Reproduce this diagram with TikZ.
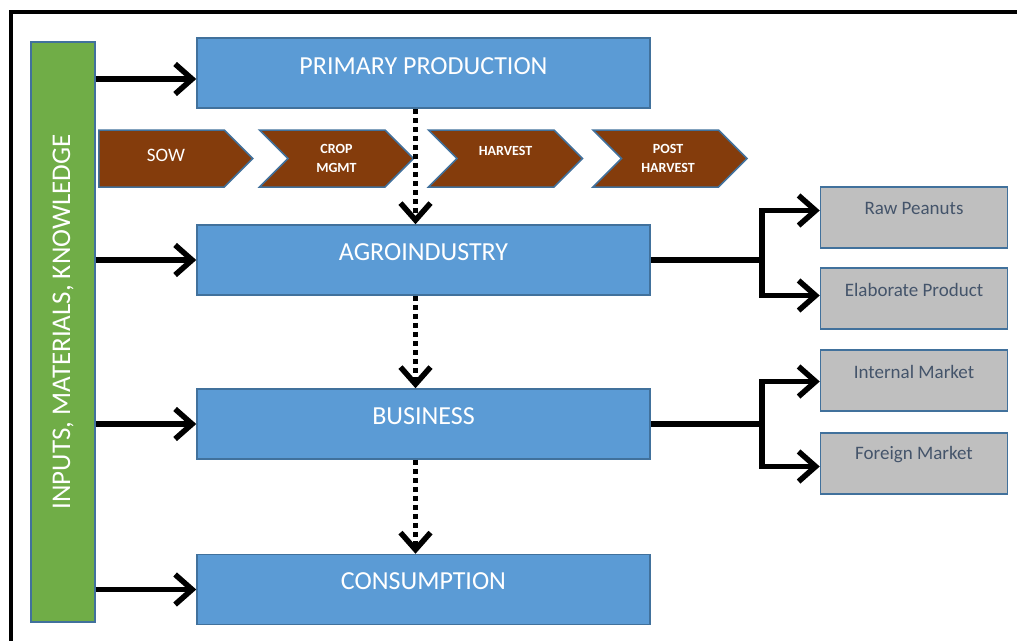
\documentclass[tikz,border=0pt]{standalone}
\usepackage{fontspec}
\setmainfont{Carlito}
\usetikzlibrary{arrows.meta,shapes.symbols,calc}
\definecolor{bfill}{HTML}{5B9BD5}
\definecolor{bline}{HTML}{41719C}
\definecolor{gfill}{HTML}{70AD47}
\definecolor{brown}{HTML}{843C0C}
\definecolor{gryfill}{HTML}{BFBFBF}
\definecolor{grytxt}{HTML}{44546A}
\tikzset{
  bluebox/.style={draw=bline, line width=1.5pt, fill=bfill, rectangle, minimum width=453pt, minimum height=70pt, inner sep=0pt},
  bluetxt/.style={text=white, font=\fontsize{26}{30}\selectfont, anchor=center},
  greybox/.style={draw=bline, line width=1.5pt, fill=gryfill, rectangle, minimum width=187pt, minimum height=61pt, inner sep=0pt},
  greytxt/.style={text=grytxt, font=\fontsize{19}{22}\selectfont, anchor=center},
  chev/.style={draw=bline, line width=1.5pt, fill=brown, signal, signal to=east, signal from=west, signal pointer angle=90, minimum height=57pt, minimum width=154pt, inner sep=0pt},
  chevtxt/.style={text=white, font=\bfseries\fontsize{14}{19}\selectfont, align=center},
  arr/.style={line width=5.5pt, -{Straight Barb[length=17pt,width=30pt,line width=5.5pt]}, black},
  dotarr/.style={line width=5.5pt, dash pattern=on 5pt off 4pt, -{Straight Barb[length=17pt,width=30pt,line width=5.5pt]}, black},
  plain/.style={line width=5.5pt, black}
}
\begin{document}
\begin{tikzpicture}[x=1pt,y=-1pt]
\useasboundingbox (0,0) rectangle (1017,640);
\fill[white] (0,0) rectangle (1017,640);
% frame
\draw[line width=4.5pt] (11,660) -- (11,12) -- (1040,12);
% green bar
\node[draw=bline, line width=1.5pt, fill=gfill, minimum width=64pt, minimum height=580pt, inner sep=0pt] (green) at (63,332) {};
\node[rotate=90, text=white, font=\fontsize{27}{30}\selectfont] (greentxt) at (63,322) {INPUTS, MATERIALS, KNOWLEDGE};
% blue boxes
\node[bluebox, label={[bluetxt, yshift=7pt]center:PRIMARY PRODUCTION}] (prim) at (423.5,73) {};
\node[bluebox, label={[bluetxt, yshift=8pt]center:AGROINDUSTRY}] (agro) at (423.5,260) {};
\node[bluebox, label={[bluetxt, yshift=8pt]center:BUSINESS}] (bus) at (423.5,424) {};
\node[bluebox, label={[bluetxt, yshift=8pt]center:CONSUMPTION}] (cons) at (423.5,589.5) {};
% chevrons
\node[chev, signal from=nothing] (sow) at (161.5,158.5) {};
\node[chevtxt, font=\fontsize{19}{22}\selectfont] (sowt) at (166,155) {SOW};
\node[chev] (crop) at (336.5,158.5) {};
\node[chevtxt] (cropt) at (336.5,158) {CROP\\MGMT};
\node[chev] (harv) at (505.5,158.5) {};
\node[chevtxt] (harvt) at (505.5,151) {HARVEST};
\node[chev] (post) at (670,158.5) {};
\node[chevtxt] (postt) at (668,158) {POST\\HARVEST};
% grey boxes
\node[greybox, label={[greytxt, yshift=9pt]center:Raw Peanuts}] (raw) at (914,217.5) {};
\node[greybox, label={[greytxt, yshift=9pt]center:Elaborate Product}] (elab) at (914,298.5) {};
\node[greybox, label={[greytxt, yshift=9pt]center:Internal Market}] (intm) at (914,380.5) {};
\node[greybox, label={[greytxt, yshift=9pt]center:Foreign Market}] (form) at (914,463.5) {};
% input arrows
\draw[arr] ([yshift=-6pt]green.east |- prim.west) -- ([yshift=-6pt]prim.west);
\draw[arr] (green.east |- agro.west) -- (agro.west);
\draw[arr] (green.east |- bus.west) -- (bus.west);
\draw[arr] (green.east |- cons.west) -- (cons.west);
% dotted arrows
\draw[dotarr] ([xshift=-8pt]prim.south) -- ([xshift=-8pt]agro.north);
\draw[dotarr] ([xshift=-8pt]agro.south) -- ([xshift=-8pt]bus.north);
\draw[dotarr] ([xshift=-8pt]bus.south) -- ([xshift=-8pt]cons.north);
% branches
\coordinate (ja) at (762,260);
\coordinate (jb) at (762,424);
\draw[plain] (agro.east) -- (ja);
\draw[arr] (ja) |- ([yshift=7pt]raw.west);
\draw[arr] (ja) |- ([yshift=3pt]elab.west);
\draw[plain] (bus.east) -- (jb);
\draw[arr] (jb) |- ([yshift=-1pt]intm.west);
\draw[arr] (jb) |- ([yshift=-3pt]form.west);
\end{tikzpicture}
\end{document}
